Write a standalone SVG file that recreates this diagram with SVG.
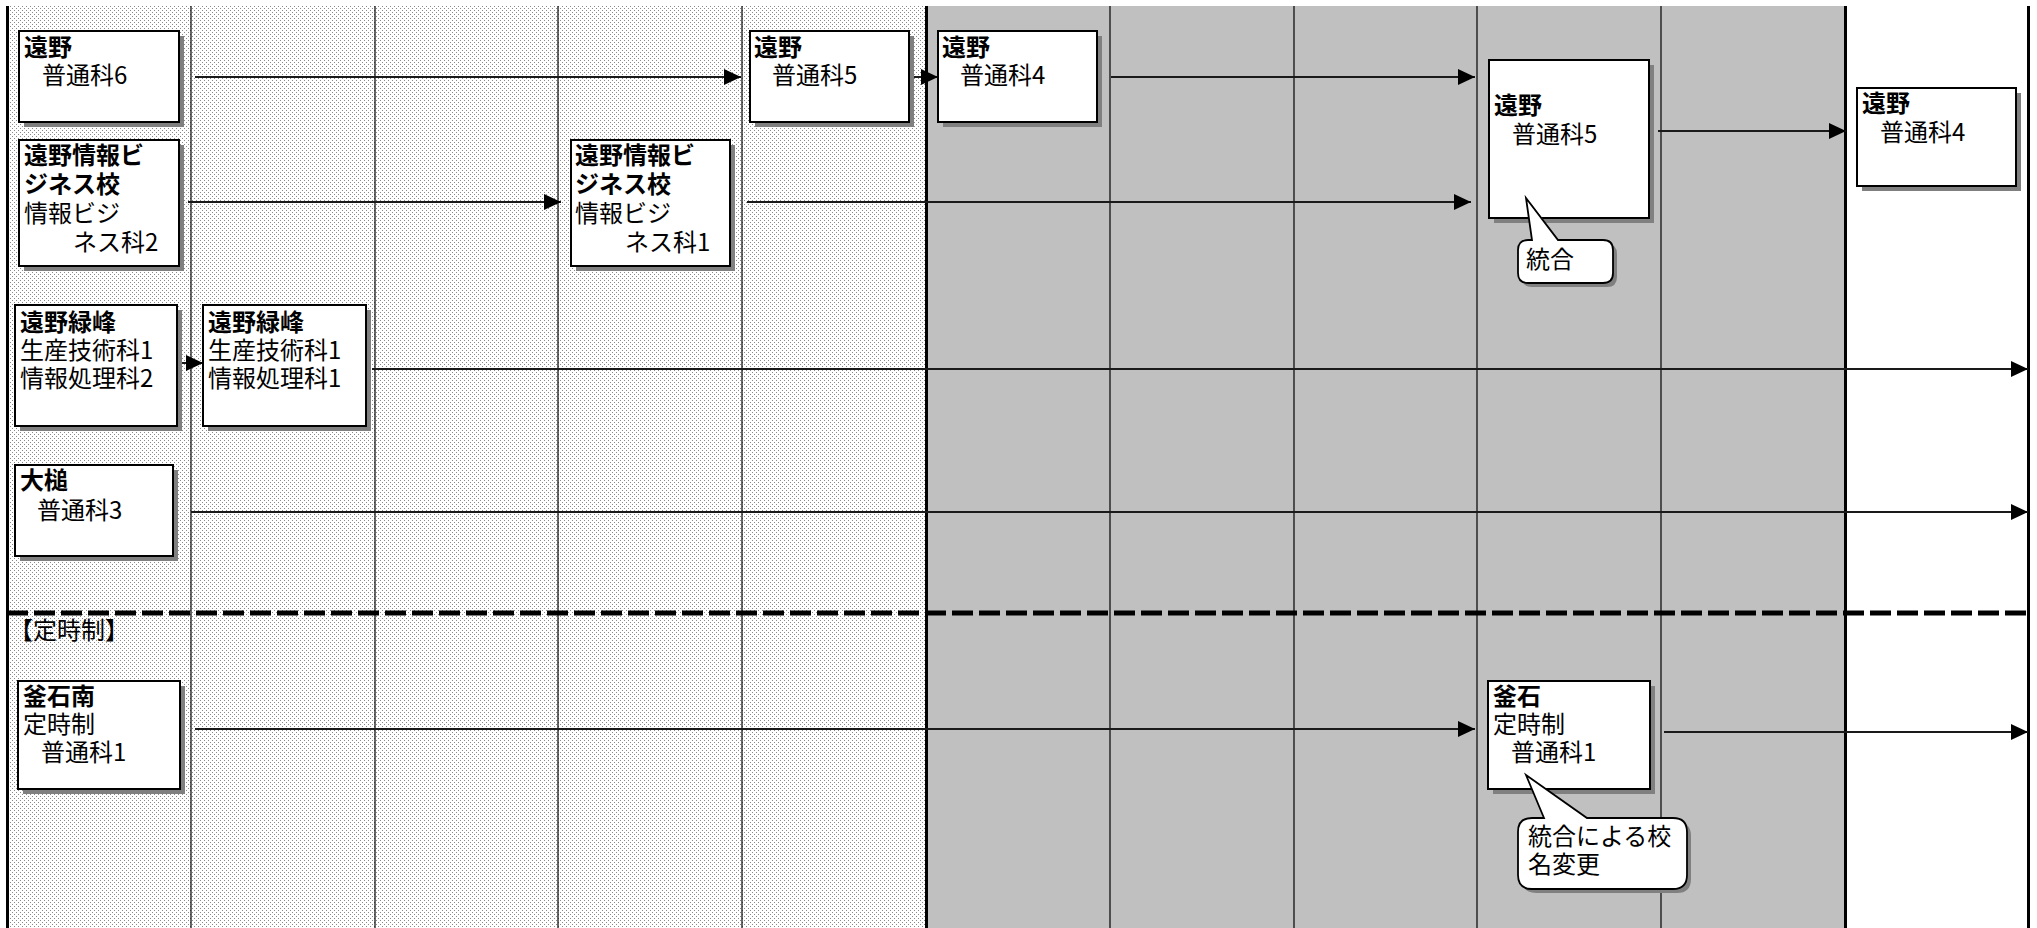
<svg xmlns="http://www.w3.org/2000/svg" width="2037" height="928" viewBox="0 0 2037 928">
<style>
.t{font-family:"Noto Sans CJK JP","Noto Sans CJK SC",sans-serif;font-size:24px;fill:#000}
.b{font-weight:bold}
.box{fill:#fff;stroke:#000;stroke-width:2}
.sh{fill:#808080}
.g{stroke:#000;stroke-width:1.2}
.gt{stroke:#000;stroke-width:3}
.c{stroke:#1a1a1a;stroke-width:2;fill:none;marker-end:url(#ah)}
.co{fill:#fff;stroke:#000;stroke-width:1.8}
</style>
<defs>
<pattern id="dots" width="4" height="4" patternUnits="userSpaceOnUse">
<rect width="4" height="4" fill="#fff"/>
<rect x="0" y="0" width="1" height="1" fill="#8a8a8a"/>
<rect x="2" y="2" width="1" height="1" fill="#8a8a8a"/>
</pattern>
<marker id="ah" markerUnits="userSpaceOnUse" markerWidth="18" markerHeight="16" refX="17" refY="8" orient="auto">
<path d="M0,0 L17,8 L0,16 Z" fill="#000"/>
</marker>
</defs>
<rect x="0" y="0" width="2037" height="928" fill="#fff"/>
<rect x="7" y="6" width="919" height="922" fill="url(#dots)"/>
<rect x="926" y="6" width="919" height="922" fill="#c0c0c0"/>
<g id="grid">
<line class="g" x1="191" y1="6" x2="191" y2="928"/>
<line class="g" x1="375" y1="6" x2="375" y2="928"/>
<line class="g" x1="558" y1="6" x2="558" y2="928"/>
<line class="g" x1="742" y1="6" x2="742" y2="928"/>
<line class="g" x1="1110" y1="6" x2="1110" y2="928"/>
<line class="g" x1="1294" y1="6" x2="1294" y2="928"/>
<line class="g" x1="1477" y1="6" x2="1477" y2="928"/>
<line class="g" x1="1661" y1="6" x2="1661" y2="928"/>
<line class="gt" x1="7.5" y1="6" x2="7.5" y2="928"/>
<line class="gt" x1="926.5" y1="6" x2="926.5" y2="928"/>
<line class="gt" x1="1845.5" y1="6" x2="1845.5" y2="928"/>
<line class="gt" x1="2028.5" y1="6" x2="2028.5" y2="928"/>
<line x1="7" y1="613" x2="2030" y2="613" stroke="#000" stroke-width="5" stroke-dasharray="21 6"/>
<text class="t" x="9" y="639">【定時制】</text>
</g>
<g id="connectors">
<line class="c" x1="195" y1="77" x2="741" y2="77"/>
<line class="c" x1="909" y1="77" x2="938" y2="77"/>
<line class="c" x1="1111" y1="77" x2="1475" y2="77"/>
<line class="c" x1="188" y1="202" x2="561" y2="202"/>
<line class="c" x1="747" y1="202" x2="1471" y2="202"/>
<line class="c" x1="1658" y1="131" x2="1846" y2="131"/>
<line class="c" x1="177" y1="363" x2="203" y2="363"/>
<line class="c" x1="372" y1="369" x2="2028" y2="369"/>
<line class="c" x1="191" y1="512" x2="2028" y2="512"/>
<line class="c" x1="195" y1="729" x2="1475" y2="729"/>
<line class="c" x1="1664" y1="732" x2="2028" y2="732"/>
</g>
<g id="n1">
<rect class="sh" x="24" y="36" width="160" height="91"/>
<rect class="box" x="19" y="31" width="160" height="91"/>
<text class="t"><tspan class="b" x="24" y="56">遠野</tspan><tspan x="42" y="84">普通科6</tspan></text>
</g>
<g id="n2">
<rect class="sh" x="24" y="145" width="160" height="126"/>
<rect class="box" x="19" y="140" width="160" height="126"/>
<text class="t"><tspan class="b" x="24" y="164">遠野情報ビ</tspan><tspan class="b" x="24" y="193">ジネス校</tspan><tspan x="24" y="222">情報ビジ</tspan><tspan x="73" y="251">ネス科2</tspan></text>
</g>
<g id="n3">
<rect class="sh" x="755" y="36" width="159" height="91"/>
<rect class="box" x="750" y="31" width="159" height="91"/>
<text class="t"><tspan class="b" x="754" y="56">遠野</tspan><tspan x="772" y="84">普通科5</tspan></text>
</g>
<g id="n4">
<rect class="sh" x="943" y="36" width="159" height="91"/>
<rect class="box" x="938" y="31" width="159" height="91"/>
<text class="t"><tspan class="b" x="942" y="56">遠野</tspan><tspan x="960" y="84">普通科4</tspan></text>
</g>
<g id="n5">
<rect class="sh" x="576" y="145" width="159" height="126"/>
<rect class="box" x="571" y="140" width="159" height="126"/>
<text class="t"><tspan class="b" x="575" y="164">遠野情報ビ</tspan><tspan class="b" x="575" y="193">ジネス校</tspan><tspan x="575" y="222">情報ビジ</tspan><tspan x="625" y="251">ネス科1</tspan></text>
</g>
<g id="n6">
<rect class="sh" x="20" y="310" width="162" height="121"/>
<rect class="box" x="15" y="305" width="162" height="121"/>
<text class="t"><tspan class="b" x="20" y="331">遠野緑峰</tspan><tspan x="20" y="359">生産技術科1</tspan><tspan x="20" y="387">情報処理科2</tspan></text>
</g>
<g id="n7">
<rect class="sh" x="208" y="310" width="163" height="121"/>
<rect class="box" x="203" y="305" width="163" height="121"/>
<text class="t"><tspan class="b" x="208" y="331">遠野緑峰</tspan><tspan x="208" y="359">生産技術科1</tspan><tspan x="208" y="387">情報処理科1</tspan></text>
</g>
<g id="n8">
<rect class="sh" x="20" y="470" width="158" height="91"/>
<rect class="box" x="15" y="465" width="158" height="91"/>
<text class="t"><tspan class="b" x="20" y="489">大槌</tspan><tspan x="37" y="519">普通科3</tspan></text>
</g>
<g id="n9">
<rect class="sh" x="1494" y="65" width="160" height="158"/>
<rect class="box" x="1489" y="60" width="160" height="158"/>
<text class="t"><tspan class="b" x="1494" y="114">遠野</tspan><tspan x="1512" y="143">普通科5</tspan></text>
</g>
<g id="n10">
<rect class="sh" x="1862" y="93" width="159" height="98"/>
<rect class="box" x="1857" y="88" width="159" height="98"/>
<text class="t"><tspan class="b" x="1862" y="112">遠野</tspan><tspan x="1880" y="141">普通科4</tspan></text>
</g>
<g id="c1">
<path class="sh" transform="translate(4,4)" d="M1528,240 L1532,240 L1526,198 L1558,240 L1603,240 Q1613,240 1613,250 L1613,273 Q1613,283 1603,283 L1528,283 Q1518,283 1518,273 L1518,250 Q1518,240 1528,240 Z"/>
<path class="co" d="M1528,240 L1532,240 L1526,198 L1558,240 L1603,240 Q1613,240 1613,250 L1613,273 Q1613,283 1603,283 L1528,283 Q1518,283 1518,273 L1518,250 Q1518,240 1528,240 Z"/>
<text class="t" x="1526" y="268">統合</text>
</g>
<g id="n11">
<rect class="sh" x="23" y="686" width="162" height="108"/>
<rect class="box" x="18" y="681" width="162" height="108"/>
<text class="t"><tspan class="b" x="23" y="705">釜石南</tspan><tspan x="23" y="733">定時制</tspan><tspan x="41" y="761">普通科1</tspan></text>
</g>
<g id="n12">
<rect class="sh" x="1493" y="686" width="162" height="108"/>
<rect class="box" x="1488" y="681" width="162" height="108"/>
<text class="t"><tspan class="b" x="1493" y="705">釜石</tspan><tspan x="1493" y="733">定時制</tspan><tspan x="1511" y="761">普通科1</tspan></text>
</g>
<g id="c2">
<path class="sh" transform="translate(4,4)" d="M1532,818 L1544,818 L1526,775 L1587,818 L1673,818 Q1687,818 1687,832 L1687,875 Q1687,889 1673,889 L1532,889 Q1518,889 1518,875 L1518,832 Q1518,818 1532,818 Z"/>
<path class="co" d="M1532,818 L1544,818 L1526,775 L1587,818 L1673,818 Q1687,818 1687,832 L1687,875 Q1687,889 1673,889 L1532,889 Q1518,889 1518,875 L1518,832 Q1518,818 1532,818 Z"/>
<text class="t"><tspan x="1528" y="845">統合による校</tspan><tspan x="1528" y="873">名変更</tspan></text>
</g>
</svg>
